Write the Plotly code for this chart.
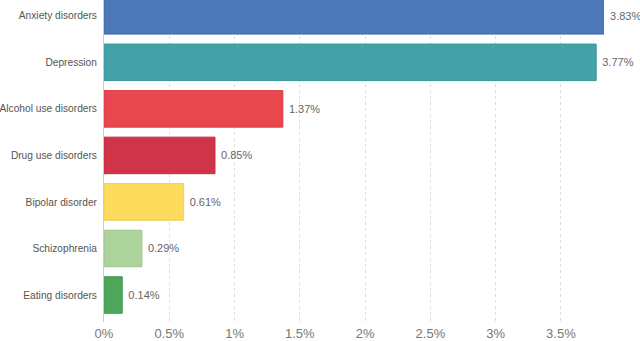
import plotly.graph_objects as go

# prevalencia por transtorno (%)
transtornos = ["Anxiety disorders", "Depression", "Alcohol use disorders",
               "Drug use disorders", "Bipolar disorder", "Schizophrenia", "Eating disorders"]
prevalencia = [3.83, 3.77, 1.37, 0.85, 0.61, 0.29, 0.14]
cores = ["#4d78b7", "#42a2a7", "#e8474f", "#d03449", "#fddb5c", "#abd39b", "#4ea65a"]
bordas = ["#3f6aa8", "#3a9499", "#d93e46", "#bd2d40", "#f0cd50", "#9dc68d", "#449a50"]

fig = go.Figure(go.Bar(
    x=prevalencia,
    y=transtornos,
    orientation="h",
    marker=dict(color=cores, line=dict(color=bordas, width=1)),
    text=[f" {v:.2f}%" for v in prevalencia],
    textposition="outside",
    textfont=dict(size=11, color="#666666"),
    cliponaxis=False,
    width=0.785,
))

fig.update_layout(
    width=640, height=341,
    margin=dict(l=104, r=36, t=0, b=19, autoexpand=False),
    plot_bgcolor="white", paper_bgcolor="white",
    font=dict(family="Liberation Sans, Arial, sans-serif", color="#555555"),
    showlegend=False,
)
fig.update_xaxes(
    range=[0, 3.83], tickvals=[0, 0.5, 1, 1.5, 2, 2.5, 3, 3.5],
    ticktext=["0%", "0.5%", "1%", "1.5%", "2%", "2.5%", "3%", "3.5%"],
    showgrid=True, gridcolor="#dddddd", griddash="dot", gridwidth=1,
    zeroline=False, tickfont=dict(size=13, color="#777777"), ticks="",
    ticklabelstandoff=2, automargin=False,
)
fig.update_yaxes(
    range=[6.58, -0.34], showline=True, linecolor="#cccccc", linewidth=1,
    tickfont=dict(size=10.2, color="#555555"), ticks="", ticklabelstandoff=4,
    automargin=False,
)

# tira a margem padrao do body da pagina
fig.write_html("out.html", config={"displayModeBar": False},
               post_script="document.body.style.margin='0';")
